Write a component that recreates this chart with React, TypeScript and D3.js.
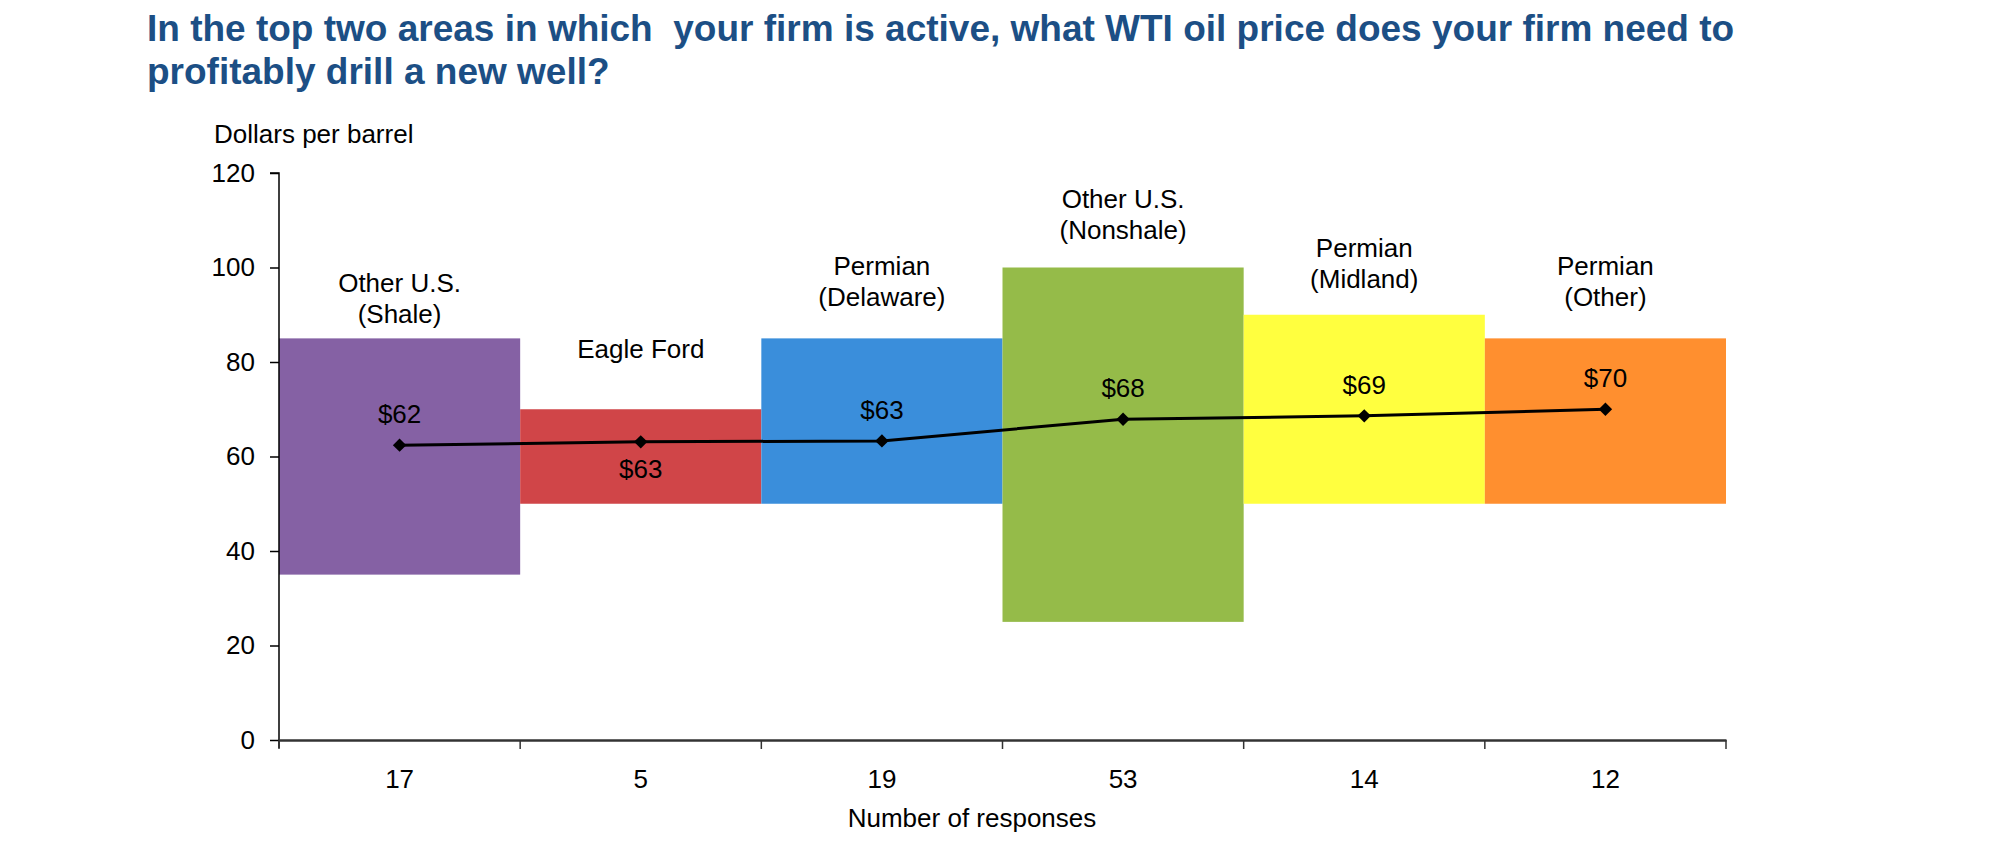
import { useEffect, useRef } from "react";
import * as d3 from "d3";

// Survey areas, response counts and price ranges
const areas = [
  "Other U.S. (Shale)",
  "Eagle Ford",
  "Permian (Delaware)",
  "Other U.S. (Nonshale)",
  "Permian (Midland)",
  "Permian (Other)",
];
const areaLines = [
  ["Other U.S.", "(Shale)"],
  ["Eagle Ford"],
  ["Permian", "(Delaware)"],
  ["Other U.S.", "(Nonshale)"],
  ["Permian", "(Midland)"],
  ["Permian", "(Other)"],
];
const responses = [17, 5, 19, 53, 14, 12];
const rangeLow = [35, 50, 50, 25, 50, 50];
const rangeHigh = [85, 70, 85, 100, 90, 85];
const avgPrice = [62.4, 63.1, 63.3, 67.9, 68.6, 70.0];
const priceLabels = ["$62", "$63", "$63", "$68", "$69", "$70"];
const priceLabelSide = ["above", "below", "above", "above", "above", "above"];
const yTicks = [0, 20, 40, 60, 80, 100, 120];

const COLORS = ["#8561a4", "#d04548", "#3a8edb", "#95bb49", "#ffff3f", "#ff8f2f"];
const TITLE_COLOR = "#1c4f85";
const FONT = "'Liberation Sans', Arial, Helvetica, sans-serif";

const W = 2000;
const H = 856;

export default function App() {
  const ref = useRef<SVGSVGElement>(null);

  useEffect(() => {
    if (!ref.current) return;
    const svg = d3.select(ref.current);
    svg.selectAll("*").remove();

    const left = 279;
    const right = 1726;
    const top = 173;
    const bottom = 740;

    const x = d3.scaleBand<string>().domain(areas).range([left, right]).padding(0);
    const y = d3.scaleLinear().domain([0, 120]).range([bottom, top]);
    const bw = x.bandwidth();

    // Title
    const title = svg
      .append("text")
      .attr("font-family", FONT)
      .attr("font-size", 37)
      .attr("font-weight", 700)
      .attr("fill", TITLE_COLOR)
      .style("white-space", "pre");
    title
      .append("tspan")
      .attr("x", 147)
      .attr("y", 41)
      .text("In the top two areas in which  your firm is active, what WTI oil price does your firm need to");
    title.append("tspan").attr("x", 147).attr("y", 84).text("profitably drill a new well?");

    svg
      .append("text")
      .attr("x", 214)
      .attr("y", 143)
      .attr("font-family", FONT)
      .attr("font-size", 26)
      .attr("fill", "#000")
      .text("Dollars per barrel");

    // Range boxes
    svg
      .append("g")
      .selectAll("rect")
      .data(areas)
      .join("rect")
      .attr("x", (d) => x(d)!)
      .attr("width", bw)
      .attr("y", (_, i) => y(rangeHigh[i]))
      .attr("height", (_, i) => y(rangeLow[i]) - y(rangeHigh[i]))
      .attr("fill", (_, i) => COLORS[i]);

    // Area labels above boxes
    const labelGap = [15, 51, 32, 29, 27, 32];
    const lineH = 31;
    areas.forEach((a, i) => {
      const lines = areaLines[i];
      const base = y(rangeHigh[i]) - labelGap[i];
      const t = svg
        .append("text")
        .attr("font-family", FONT)
        .attr("font-size", 26)
        .attr("text-anchor", "middle")
        .attr("fill", "#000");
      lines.forEach((ln, j) => {
        t.append("tspan")
          .attr("x", x(a)! + bw / 2)
          .attr("y", base - (lines.length - 1 - j) * lineH)
          .text(ln);
      });
    });

    // Y axis
    svg
      .append("g")
      .attr("transform", `translate(${left},0)`)
      .call(d3.axisLeft(y).tickValues(yTicks).tickSize(9).tickPadding(15))
      .call((g) => g.select(".domain").attr("stroke", "#000").attr("stroke-width", 1.5).attr("d", `M-9,${top}H0V${bottom + 8}`))
      .call((g) => g.selectAll(".tick line").attr("stroke", "#000").attr("stroke-width", 1.5))
      .call((g) =>
        g
          .selectAll(".tick text")
          .attr("font-family", FONT)
          .attr("font-size", 26)
          .attr("fill", "#000")
      );

    // X axis: labels at band centres, ticks at band edges
    svg
      .append("g")
      .attr("transform", `translate(0,${bottom})`)
      .call(
        d3
          .axisBottom(x)
          .tickSize(0)
          .tickPadding(30)
          .tickFormat((_, i) => String(responses[i]))
      )
      .call((g) => g.select(".domain").attr("stroke", "#333").attr("stroke-width", 2.5))
      .call((g) =>
        g
          .selectAll(".tick text")
          .attr("font-family", FONT)
          .attr("font-size", 26)
          .attr("fill", "#000")
      );

    const edges = [...areas.map((a) => x(a)!), right];
    svg
      .append("g")
      .selectAll("line")
      .data(edges)
      .join("line")
      .attr("x1", (d) => d)
      .attr("x2", (d) => d)
      .attr("y1", bottom)
      .attr("y2", bottom + 9)
      .attr("stroke", "#333")
      .attr("stroke-width", 1.5);

    svg
      .append("text")
      .attr("x", 972)
      .attr("y", 827)
      .attr("text-anchor", "middle")
      .attr("font-family", FONT)
      .attr("font-size", 26)
      .attr("fill", "#000")
      .text("Number of responses");

    // Average price line with diamond markers
    const line = d3
      .line<number>()
      .x((_, i) => x(areas[i])! + bw / 2)
      .y((d) => y(d));
    svg
      .append("path")
      .datum(avgPrice)
      .attr("fill", "none")
      .attr("stroke", "#000")
      .attr("stroke-width", 3)
      .attr("d", line);

    const diamond = d3.symbol().type(d3.symbolSquare).size(90)();
    svg
      .append("g")
      .selectAll("path")
      .data(avgPrice)
      .join("path")
      .attr("d", diamond)
      .attr("transform", (d, i) => `translate(${x(areas[i])! + bw / 2},${y(d)}) rotate(45)`)
      .attr("fill", "#000");

    svg
      .append("g")
      .selectAll("text")
      .data(avgPrice)
      .join("text")
      .attr("x", (_, i) => x(areas[i])! + bw / 2)
      .attr("y", (d, i) => (priceLabelSide[i] === "above" ? y(d) - 22 : y(d) + 36))
      .attr("text-anchor", "middle")
      .attr("font-family", FONT)
      .attr("font-size", 26)
      .attr("fill", "#000")
      .text((_, i) => priceLabels[i]);
  }, []);

  return (
    <svg
      ref={ref}
      width={W}
      height={H}
      style={{ position: "absolute", left: 0, top: 0, background: "#fff", display: "block" }}
    />
  );
}
